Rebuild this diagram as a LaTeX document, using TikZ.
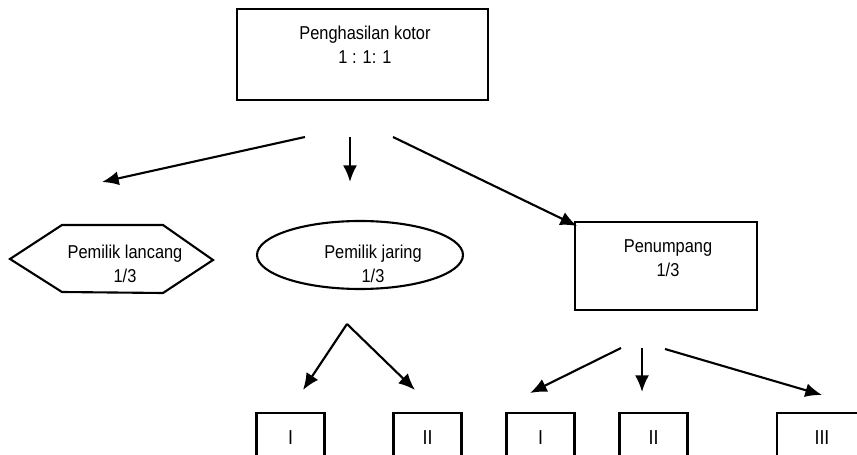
\documentclass[tikz,border=0pt]{standalone}
\usepackage{fontspec}
\setmainfont{Liberation Sans}[FakeStretch=0.88]
\usepackage{tikz}
\usetikzlibrary{arrows.meta}
\usetikzlibrary{shapes.geometric}
\tikzstyle{box} = [draw, rectangle, inner sep=0pt]
\tikzstyle{txt} = [align=center, inner sep=0pt, font=\fontsize{10.6}{13.5}\selectfont]
\tikzstyle{nr} = [box, minimum width=1.36cm, minimum height=1cm, font=\fontsize{11.5}{13}\selectfont]
\tikzstyle{free} = [coordinate]

\begin{document}
\begin{tikzpicture}[x=0.02cm, y=-0.02cm, line width=1.2pt, >={Latex[length=9.5pt,width=8pt]}]
  \useasboundingbox (0,0) rectangle (857,455);
  \clip (0,0) rectangle (857,455);
  % shares
  \node [box, minimum width=5.02cm, minimum height=1.82cm] (kotor) at (362.5,54.5) {};
  \node [txt] (kotortxt) at (365,45) {Penghasilan kotor\\1 : 1: 1};
  \draw (10,259) -- (62,225) -- (163,225) -- (213,260) -- (163,293) -- (62,292) -- cycle;
  \node [txt] (lancangtxt) at (125,264) {Pemilik lancang\\1/3};
  \node [draw, ellipse, minimum width=4.12cm, minimum height=1.36cm, inner sep=0pt] (jaring) at (360,255) {};
  \node [txt] (jaringtxt) at (373,264) {Pemilik jaring\\1/3};
  \node [box, minimum width=3.64cm, minimum height=1.76cm] (penumpang) at (666,266) {};
  \node [txt] (penumpangtxt) at (668,258) {Penumpang\\1/3};
  % bottom row
  \node [nr] (jaringI) at (290.5,438) {I};
  \node [nr] (jaringII) at (427.5,438) {II};
  \node [nr] (penumpangI) at (540.5,438) {I};
  \node [nr] (penumpangII) at (653.5,438) {II};
  \node [nr, minimum width=1.8cm] (penumpangIII) at (822,438) {III};
  % arrow ends
  \node [free, name=k1] at (305,137) {};
  \node [free, name=k2] at (350,137) {};
  \node [free, name=k3] at (393,137) {};
  \node [free, name=t1] at (102,182) {};
  \node [free, name=t2] at (350,182) {};
  \node [free, name=t3] at (577,226) {};
  \node [free, name=j0] at (347,324) {};
  \node [free, name=j1] at (303,390) {};
  \node [free, name=j2] at (415,390) {};
  \node [free, name=p1] at (621,348) {};
  \node [free, name=p2] at (642,348) {};
  \node [free, name=p3] at (665,349) {};
  \node [free, name=q1] at (530,393) {};
  \node [free, name=q2] at (642,392) {};
  \node [free, name=q3] at (822,395) {};
  \draw [->] (k1) -- (t1);
  \draw [->] (k2) -- (t2);
  \draw [->] (k3) -- (t3);
  \draw [->] (j0) -- (j1);
  \draw [->] (j0) -- (j2);
  \draw [->] (p1) -- (q1);
  \draw [->] (p2) -- (q2);
  \draw [->] (p3) -- (q3);
\end{tikzpicture}
\end{document}
